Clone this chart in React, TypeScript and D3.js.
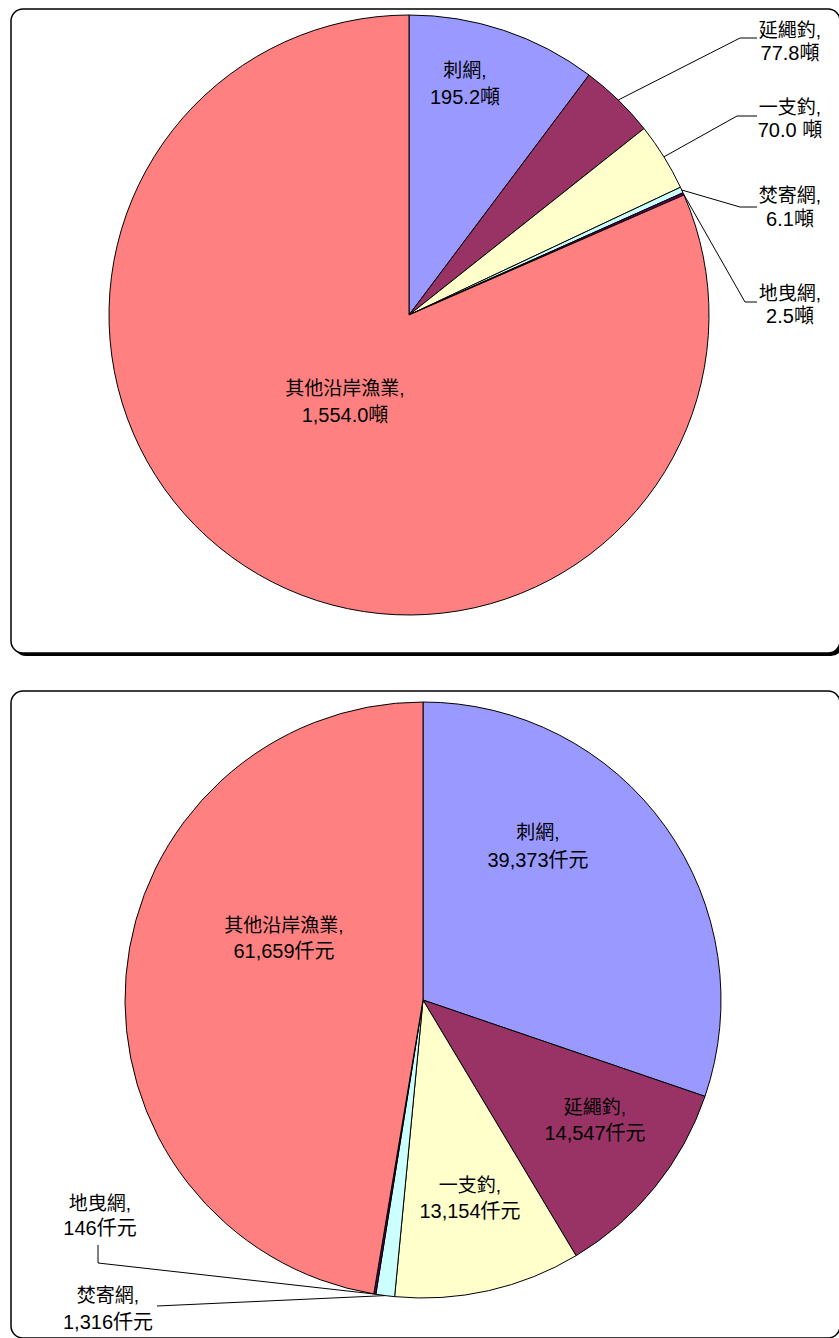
import React from "react";
import * as d3 from "d3";

// ---- data ----
const categories = ["刺網", "延繩釣", "一支釣", "焚寄網", "地曳網", "其他沿岸漁業"];
const tonnage = [195.2, 77.8, 70.0, 6.1, 2.5, 1554.0];
const valueThousand = [39373, 14547, 13154, 1316, 146, 61659];
const tonSep = ["", "", " ", "", "", ""];
const colors = ["#9999FF", "#993366", "#FFFFCC", "#CCFFFF", "#660066", "#FF8080"];

// ---- layout (label placement) ----
type Lab = { x: number; y: number; gap: number; path?: [number, number][] };
const topLabels: Lab[] = [
  { x: 465, y: 70, gap: 27 },
  { x: 790, y: 30, gap: 23, path: [[740, 38], [757, 38]] },
  { x: 790, y: 107, gap: 23, path: [[737, 116], [757, 116]] },
  { x: 790, y: 195, gap: 24, path: [[740, 207], [757, 207]] },
  { x: 790, y: 293, gap: 23, path: [[745, 302], [757, 302]] },
  { x: 345, y: 388, gap: 27 },
];
const botLabels: Lab[] = [
  { x: 538, y: 832, gap: 28 },
  { x: 595, y: 1107, gap: 26 },
  { x: 470, y: 1185, gap: 26 },
  { x: 108, y: 1295, gap: 27, path: [[157, 1306]] },
  { x: 100, y: 1203, gap: 25, path: [[98, 1263], [98, 1245]] },
  { x: 284, y: 925, gap: 26 },
];

const FONT = "'Liberation Sans', Arial, 'Noto Sans CJK TC', sans-serif";

function Pie({ values, cx, cy, r, labels, fmt }: {
  values: number[]; cx: number; cy: number; r: number; labels: Lab[]; fmt: (v: number, i: number) => string;
}) {
  const pie = d3.pie<number>().sort(null).value((d) => d).startAngle(0).endAngle(2 * Math.PI);
  const arcs = pie(values);
  const arc = d3.arc<d3.PieArcDatum<number>>().innerRadius(0).outerRadius(r);
  return (
    <g>
      <g transform={`translate(${cx},${cy})`}>
        {arcs.map((a, i) => (
          <path key={i} d={arc(a) || ""} fill={colors[i]} stroke="#000" strokeWidth={1} strokeLinejoin="round" />
        ))}
      </g>
      {arcs.map((a, i) => {
        const L = labels[i];
        if (!L.path) return null;
        const mid = (a.startAngle + a.endAngle) / 2;
        const sx = cx + r * Math.sin(mid);
        const sy = cy - r * Math.cos(mid);
        const pts: [number, number][] = [[sx, sy], ...L.path];
        return <path key={"l" + i} d={d3.line()(pts) || ""} fill="none" stroke="#000" strokeWidth={1} />;
      })}
      {arcs.map((a, i) => {
        const L = labels[i];
        return (
          <text key={"t" + i} x={L.x} textAnchor="middle" fontFamily={FONT} fontSize={19} fill="#000">
            <tspan x={L.x} y={L.y} dominantBaseline="central">{categories[i] + ","}</tspan>
            <tspan x={L.x} y={L.y + L.gap} dominantBaseline="central" fontSize={20}>{fmt(a.data, i)}</tspan>
          </text>
        );
      })}
    </g>
  );
}

export default function App() {
  const f1 = d3.format(",.1f");
  const f2 = d3.format(",");
  return (
    <svg width={839} height={1338} style={{ position: "absolute", left: 0, top: 0, background: "#fff" }}>
      {/* frames */}
      <rect x={14} y={12} width={829} height={644} rx={12} fill="#000" />
      <rect x={11} y={9} width={829} height={644} rx={12} fill="#fff" stroke="#000" strokeWidth={1.5} />
      <rect x={11} y={691} width={829} height={647} rx={12} fill="#fff" stroke="#000" strokeWidth={1.5} />
      <Pie values={tonnage} cx={409} cy={315} r={300} labels={topLabels}
        fmt={(v, i) => f1(v) + tonSep[i] + "噸"} />
      <Pie values={valueThousand} cx={423} cy={1000} r={298} labels={botLabels}
        fmt={(v) => f2(v) + "仟元"} />
    </svg>
  );
}
